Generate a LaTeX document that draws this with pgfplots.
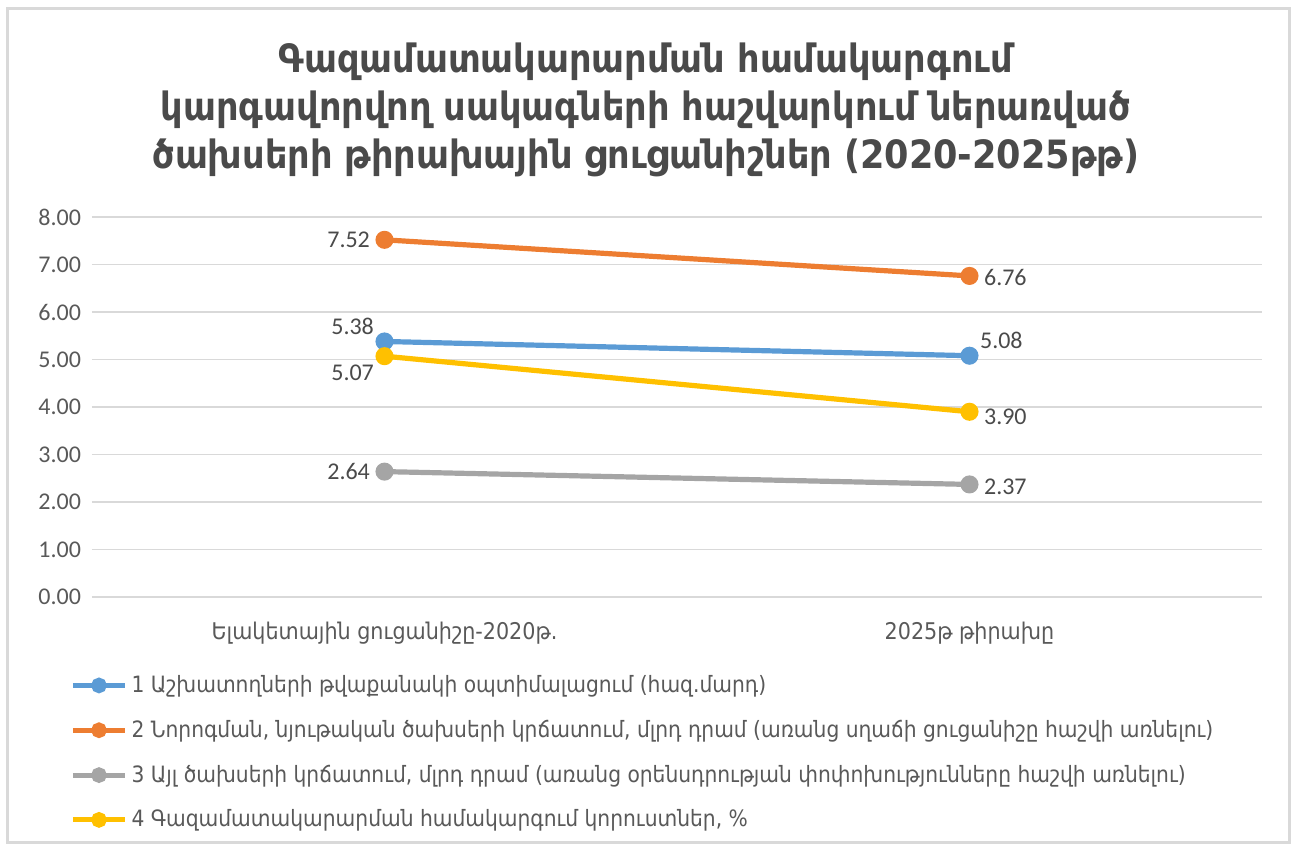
\documentclass[border=0pt]{standalone}
\usepackage{pgfplots}
\pgfplotsset{compat=1.18}
\usepackage{fontspec}
\setmainfont{DejaVu Sans Condensed}
\newfontfamily\numfont{Carlito}
\definecolor{c1}{HTML}{5B9BD5}
\definecolor{c2}{HTML}{ED7D31}
\definecolor{c3}{HTML}{A5A5A5}
\definecolor{c4}{HTML}{FFC000}
\definecolor{txt}{HTML}{595959}
\definecolor{ttl}{HTML}{4A4A4A}
\definecolor{frm}{HTML}{D9D9D9}
\begin{document}
\begin{tikzpicture}
\path[use as bounding box] (-46pt,-127pt) rectangle (600pt,298.5pt);
\draw[frm, line width=1.5pt] (-42pt,-123pt) rectangle (598.5pt,294pt);
\begin{axis}[
  at={(0pt,0pt)}, anchor=south west,
  scale only axis, width=585pt, height=190pt,
  xmin=-0.5, xmax=1.5, ymin=0, ymax=8,
  /pgf/number format/assume math mode=true,
  xtick={0,1},
  xticklabels={Ելակետային ցուցանիշը-2020թ., 2025թ թիրախը},
  ytick={0,1,...,8},
  yticklabel={\numfont\fontsize{12pt}{14pt}\selectfont\pgfmathprintnumber[fixed,fixed zerofill,precision=2]{\tick}},
  xticklabel style={font=\fontsize{11.5pt}{13pt}\selectfont, color=txt, yshift=-9pt},
  yticklabel style={color=txt, xshift=-2pt},
  ymajorgrids, grid style={draw=gray!30, line width=0.8pt},
  axis line style={draw=none}, major tick length=0pt,
  clip=false,
  every axis plot/.append style={line width=2.6pt, mark=*, mark size=3.2pt},
  nodes near coords={\numfont\fontsize{12pt}{14pt}\selectfont\pgfmathprintnumber[fixed,fixed zerofill,precision=2]{\pgfplotspointmeta}},
  point meta=y,
  visualization depends on={value \thisrow{anc} \as \anc},
  visualization depends on={value \thisrow{dx} \as \dx},
  visualization depends on={value \thisrow{dy} \as \dy},
  every node near coord/.append style={anchor=\anc, xshift=\dx pt, yshift=\dy pt, color=ttl, inner sep=1pt},
  legend style={at={(0,0)}, anchor=north west, xshift=-11pt, yshift=-37pt, draw=none, fill=none,
    font=\fontsize{11.25pt}{13pt}\selectfont, text=txt, row sep=8.3pt, inner sep=0pt},
  legend cell align=left,
  legend image code/.code={\draw[#1,mark=none,line width=2.6pt] (0pt,0pt) -- (26pt,0pt); \fill[#1] (13pt,0pt) circle (2.6pt);},
]
\addplot[c1, mark options={fill=c1, draw=c1}] table[col sep=comma] {
x,y,anc,dx,dy
0,5.38,south east,-3,1
1,5.08,south west,3,1
};
\addlegendentry{1 Աշխատողների թվաքանակի օպտիմալացում (հազ.մարդ)}
\addplot[c2, mark options={fill=c2, draw=c2}] table[col sep=comma] {
x,y,anc,dx,dy
0,7.52,east,-5,0
1,6.76,west,5,-1
};
\addlegendentry{2 Նորոգման, նյութական ծախսերի կրճատում, մլրդ դրամ (առանց սղաճի ցուցանիշը հաշվի առնելու)}
\addplot[c3, mark options={fill=c3, draw=c3}] table[col sep=comma] {
x,y,anc,dx,dy
0,2.64,east,-5,0
1,2.37,west,5,-1
};
\addlegendentry{3 Այլ ծախսերի կրճատում, մլրդ դրամ (առանց օրենսդրության փոփոխությունները հաշվի առնելու)}
\addplot[c4, mark options={fill=c4, draw=c4}] table[col sep=comma] {
x,y,anc,dx,dy
0,5.07,north east,-3,-2
1,3.90,west,5,-2.5
};
\addlegendentry{4 Գազամատակարարման համակարգում կորուստներ, \%}
\node[font=\bfseries\fontsize{19.5pt}{24pt}\selectfont, color=ttl, align=center, anchor=center]
  at ([xshift=-15.5pt, yshift=53.5pt]rel axis cs:0.5,1)
  {Գազամատակարարման համակարգում\\կարգավորվող սակագների հաշվարկում ներառված\\ծախսերի թիրախային ցուցանիշներ (2020-2025թթ)};
\end{axis}
\end{tikzpicture}
\end{document}
